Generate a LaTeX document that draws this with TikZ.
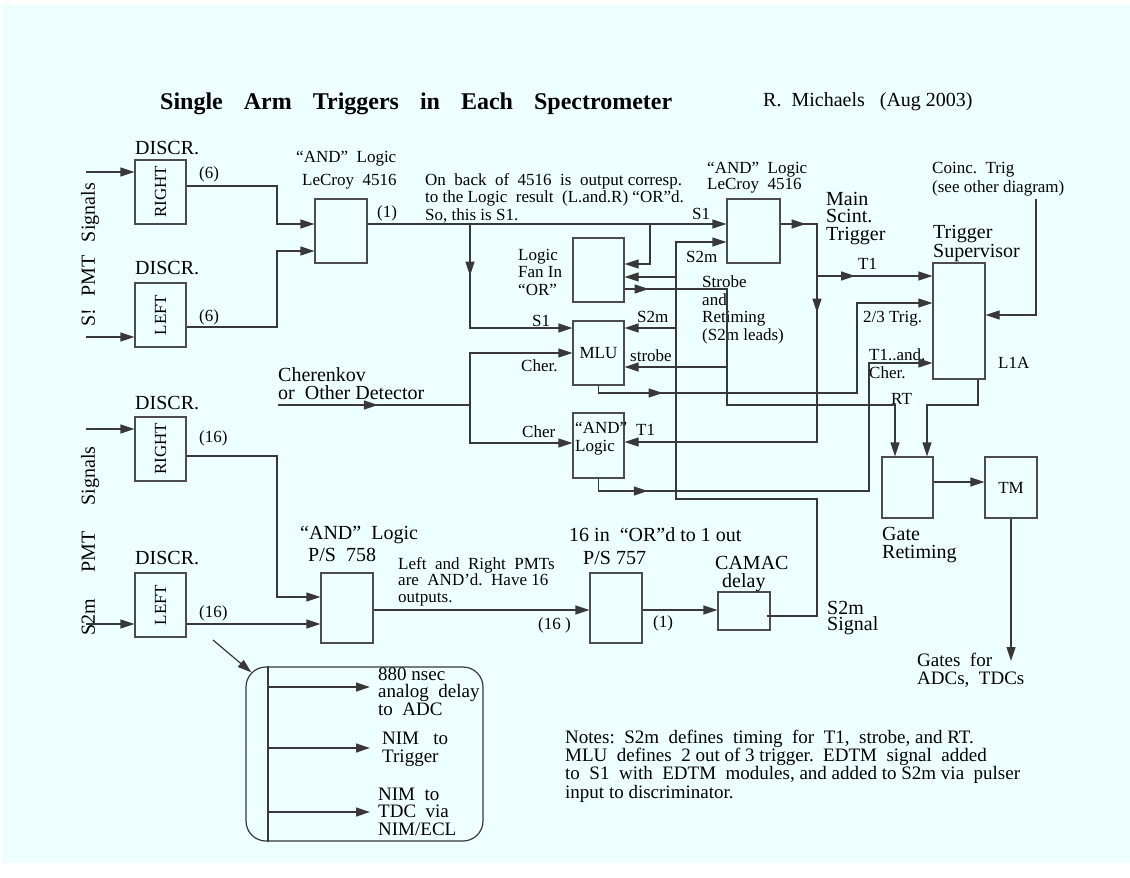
\documentclass[tikz,border=0pt]{standalone}
\usepackage{fontspec}
\usepackage{graphicx}
\setmainfont{Liberation Serif}
\usetikzlibrary{arrows.meta,decorations.markings}

\definecolor{bgcyan}{RGB}{238,255,255}
\newcommand{\fsz}[2]{\fontsize{#1}{#2}\selectfont}

\tikzset{
  wire/.style={line width=1.2pt, draw=black!78},
  box/.style={draw=black!70, line width=1.2pt, minimum width=51pt, minimum height=64pt, inner sep=0pt},
  lbl/.style={inner sep=0pt, anchor=base west, align=left, font=\fsz{17}{17.5}},
  big/.style={lbl, font=\fsz{20}{17.5}},
  side/.style={inner sep=0pt, rotate=90, font=\fsz{20}{20}},
  tipat/.style={postaction={decorate, decoration={markings, mark=at position #1 with {\arrow{>}}}}},
}

\begin{document}
\begin{tikzpicture}[x=1pt, y=-1pt, >={Triangle[length=14pt,width=9pt]}]
    \useasboundingbox (0,0) rectangle (1130,878);
    \fill[bgcyan] (2,5) rectangle (1130,863);

    % Title
    \node[font=\fsz{24}{24}\bfseries, inner sep=0pt, anchor=base west] (title) at (160,109)
        {Single\hspace{21pt}Arm\hspace{21pt}Triggers\hspace{21pt}in\hspace{21pt}Each\hspace{21pt}Spectrometer};
    \node[big] (author) at (763,106) {R.~~Michaels~~~(Aug 2003)};

    % S1 discriminators
    \node[big] (discRAlbl) at (135,154) {DISCR.};
    \node[box] (rightA) at (160.5,192) {\rotatebox{90}{\fsz{17}{17}RIGHT}};
    \node[big] (discLAlbl) at (135,274) {DISCR.};
    \node[box] (leftA) at (160.5,315) {\rotatebox{90}{\fsz{17}{17}LEFT}};
    \node[lbl] (nRA) at (199,178) {(6)};
    \node[lbl] (nLA) at (199,321) {(6)};
    \node[side] (s1sig) at (90,255) {S!\hspace{13pt}PMT\hspace{13pt}Signals};
    \coordinate (inRA) at (86,172);
    \coordinate (inLA) at (86,337);
    \draw[wire,->] (inRA) -- (inRA -| rightA.west);
    \draw[wire,->] (inLA) -- (inLA -| leftA.west);

    % first AND
    \node[box, minimum width=52pt] (andA) at (341,231) {};
    \node[lbl] (andAlbl) at (296,162) {“AND”~~Logic};
    \node[lbl] (andAtype) at (302,185) {LeCroy~~4516};
    \node[lbl] (andAout) at (377,217) {(1)};
    \draw[wire,->] (rightA.east |- 0,186) -- (277,186) |- (andA.west |- 0,224);
    \draw[wire,->] (leftA.east |- 0,327) -- (277,327) |- (andA.west |- 0,251);
    \node[lbl] (s1note) at (425,220) {On~~back~~of~~4516~~is~~output corresp.\\to the Logic~~result~~(L.and.R)~“OR”d.\\So, this is S1.};

    % second AND, fan in, MLU
    \node[box, minimum width=53pt] (andB) at (753.5,231) {};
    \node[lbl, font=\fsz{17}{16}] (andBlbl) at (707,189) {“AND”~~Logic\\LeCroy~~4516};
    \node[box] (fanin) at (598.5,270) {};
    \node[lbl] (faninlbl) at (518,295) {Logic\\Fan In\\“OR”};
    \node[box, font=\fsz{17}{17}] (mlu) at (598.5,353) {MLU};
    \node[box, minimum height=65pt] (andC) at (598.5,445.5) {};
    \node[lbl] (andClbl) at (575,451) {“AND”\\Logic};
    \node[lbl] (s1lbl) at (692,219) {S1};
    \node[lbl] (s2mlbl) at (686,262) {S2m};
    \node[lbl] (s1mlu) at (532,326) {S1};
    \node[lbl] (s2mmlu) at (637,322) {S2m};
    \node[lbl] (strobemlu) at (630,361) {strobe};
    \node[lbl] (chermlu) at (521,371) {Cher.};
    \node[lbl] (cherand) at (522,437) {Cher};
    \node[lbl] (t1and) at (636,435) {T1};
    \node[lbl] (strobelbl) at (702,340) {Strobe\\and\\Retiming\\(S2m leads)};

    \draw[wire,->] (andA.east |- 0,224) -- (andB.west |- 0,224);
    \draw[wire,->,tipat=0.25] (470,224) |- (mlu.west |- 0,328);
    \draw[wire,->] (650,224) |- (fanin.east |- 0,264);

    % Cherenkov
    \node[big] (cherlbl) at (278,399) {Cherenkov\\or~~Other Detector};
    \coordinate (cherin) at (278,405);
    \draw[wire,tipat=0.52] (cherin) -- (470,405);
    \draw[wire,->] (470,443) |- (mlu.west |- 0,353);
    \draw[wire,->] (470,405) |- (andC.west |- 0,443);

    % trigger supervisor
    \node[box, minimum width=52pt, minimum height=116pt] (ts) at (959,321) {};
    \node[big] (tslbl) at (933,257) {Trigger\\Supervisor};
    \node[big] (mainlbl) at (826,240) {Main\\Scint.\\Trigger};
    \node[lbl, font=\fsz{17}{19}] (coinclbl) at (932,192) {Coinc.~~Trig\\(see other diagram)};
    \node[lbl] (t1lbl) at (858,269) {T1};
    \node[lbl] (twothird) at (863,322) {2/3 Trig.};
    \node[lbl] (t1cher) at (869,378) {T1..and.\\Cher.};
    \node[lbl] (l1a) at (998,368) {L1A};
    \node[lbl] (rtlbl) at (891,404) {RT};
    \coordinate (coincin) at (1036,199);
    \draw[wire,->] (coincin) |- (ts.east |- 0,315);

    % main scint. trigger and T1
    \draw[wire,->,tipat=0.056,tipat=0.28] (andB.east |- 0,224) -- (817,224) |- (andC.east |- 0,442);
    \draw[wire,->,tipat=0.33] (817,276) -- (ts.west |- 0,276);
    \draw[wire,->,tipat=0.166] (mlu.south) |- (857,393) |- (ts.west |- 0,303);
    \draw[wire,->,tipat=0.13] (andC.south) |- (869,491) |- (ts.west |- 0,363);

    % gate retiming, TM
    \node[box, minimum height=61pt] (gate) at (907.5,487.5) {};
    \node[big] (gatelbl) at (882,558) {Gate\\Retiming};
    \node[box, minimum width=52pt, minimum height=61pt, font=\fsz{17}{17}] (tm) at (1011,487.5) {TM};
    \node[lbl, font=\fsz{19}{18}] (gateslbl) at (917,684) {Gates~~for\\ADCs,~~TDCs};
    \coordinate (gatesout) at (1011,661);
    \draw[wire,->] (ts.south -| 978,0) |- (927,405) -- (gate.north -| 927,0);
    \draw[wire,->] (gate.east |- 0,482) -- (tm.west |- 0,482);
    \draw[wire,->] (tm.south) -- (gatesout);

    % S2m discriminators
    \node[big] (discRBlbl) at (135,409) {DISCR.};
    \node[box] (rightB) at (160.5,449) {\rotatebox{90}{\fsz{17}{17}RIGHT}};
    \node[big] (discLBlbl) at (135,564) {DISCR.};
    \node[box] (leftB) at (160.5,605) {\rotatebox{90}{\fsz{17}{17}LEFT}};
    \node[lbl] (nRB) at (199,442) {(16)};
    \node[lbl] (nLB) at (199,617) {(16)};
    \node[side] (s2sig) at (90,541) {S2m\hspace{26pt}PMT\hspace{26pt}Signals};
    \coordinate (inRB) at (86,429);
    \coordinate (inLB) at (86,624);
    \draw[wire,->] (inRB) -- (inRB -| rightB.west);
    \draw[wire,->] (inLB) -- (inLB -| leftB.west);

    % P/S 758, P/S 757, CAMAC delay
    \node[box, minimum width=52pt, minimum height=70pt] (ps758) at (347,608) {};
    \node[big] (andDlbl) at (300,539) {“AND”~~Logic};
    \node[big] (ps758lbl) at (308,561) {P/S~~758};
    \node[lbl, font=\fsz{17}{16.5}] (ps758note) at (398,602) {Left~~and~~Right~~PMTs\\are~~AND’d.~~Have 16\\outputs.};
    \node[lbl] (n16) at (538,629) {(16~)};
    \node[box, minimum width=52pt, minimum height=70pt] (ps757) at (616,608) {};
    \node[big] (orlbl) at (569,541) {16 in~~“OR”d to 1 out};
    \node[big] (ps757lbl) at (583,564) {P/S 757};
    \node[lbl] (n1) at (653,627) {(1)};
    \node[box, minimum width=52pt, minimum height=38pt] (camac) at (744,611) {};
    \node[big, font=\fsz{20}{18}] (camaclbl) at (715,587) {CAMAC\\\hspace*{7pt}delay};
    \node[big, font=\fsz{20}{16}] (s2mout) at (827,630) {S2m\\Signal};
    \draw[wire,->] (rightB.east |- 0,456) -- (277,456) |- (ps758.west |- 0,597);
    \draw[wire,->] (leftB.east |- 0,624) -- (ps758.west |- 0,624);
    \draw[wire,->] (ps758.east |- 0,610) -- (ps757.west |- 0,610);
    \draw[wire,->] (ps757.east |- 0,610) -- (camac.west |- 0,610);

    % S2m timing signal and strobe
    \draw[wire,->] ([xshift=-4pt,yshift=-5pt]camac.east) -- (817,616) -- (817,499) -- (676,499) |- (andB.west |- 0,242);
    \draw[wire,->] (676,277) -- (fanin.east |- 0,277);
    \draw[wire,->] (676,328) -- (mlu.east |- 0,328);
    \draw[wire,->,tipat=0.055] (fanin.east |- 0,289) -- (727,289) |- (895,405) -- (gate.north -| 895,0);
    \draw[wire,->] (727,367) -- (mlu.east |- 0,367);

    % outputs of the discriminators
    \node[draw=black!78, line width=1.2pt, rounded corners=20pt, minimum width=237pt, minimum height=174pt] (outbox) at (364.5,754) {};
    \coordinate (dly) at (213,640);
    \draw[wire,->] (dly) -- ([xshift=6pt,yshift=-6pt]outbox.north west);
    \draw[wire] (outbox.north -| 268,0) -- (outbox.south -| 268,0);
    \foreach \y in {687,748,812} {
        \draw[wire,->] (268,\y) -- (370,\y);
    }
    \node[lbl, font=\fsz{19}{17.5}] (adclbl) at (378,715) {880 nsec\\analog~~delay\\to~~ADC};
    \node[lbl, font=\fsz{19}{18}] (triglbl) at (382,762) {NIM~~~to\\Trigger};
    \node[lbl, font=\fsz{19}{17.5}] (tdclbl) at (378,835) {NIM~~to\\TDC~~via\\NIM/ECL};

    % notes
    \node[lbl, font=\fsz{19}{17}] (notes) at (565,798) {Notes:~~S2m~~defines~~timing~~for~~T1,~~strobe, and RT.\\MLU~~defines~~2 out of 3 trigger.~~EDTM~~signal~~added\\to~~S1~~with~~EDTM~~modules, and added to S2m via~~pulser\\input to discriminator.};
\end{tikzpicture}
\end{document}
